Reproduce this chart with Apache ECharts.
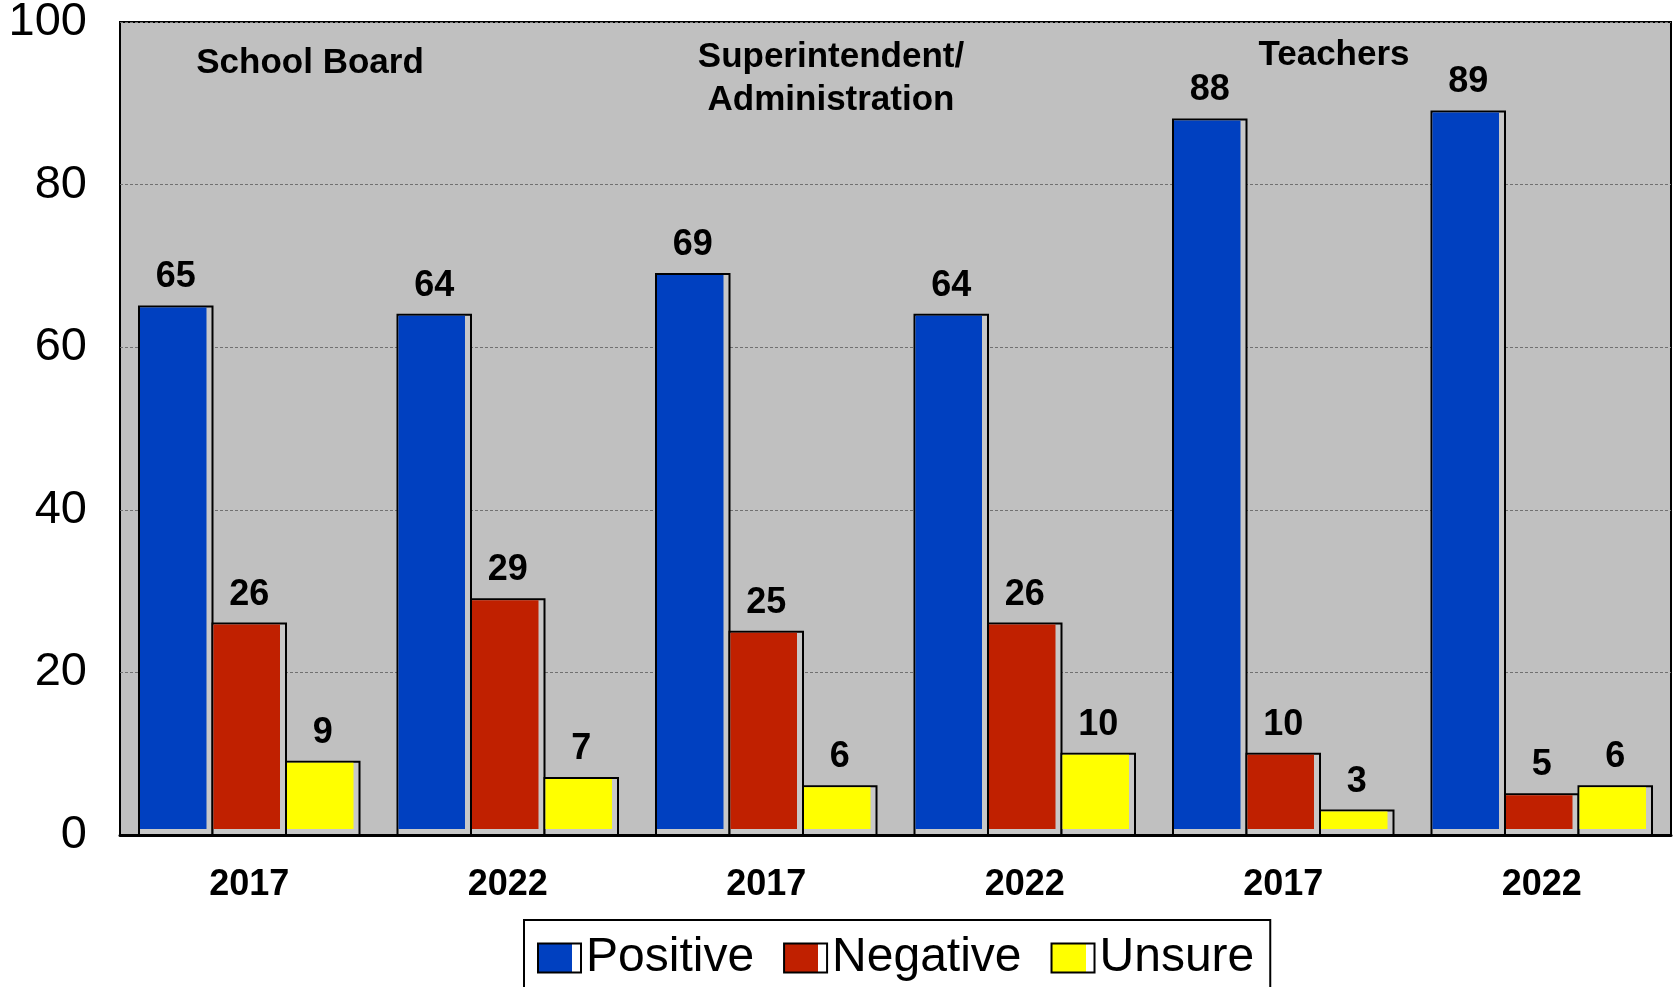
<!DOCTYPE html>
<html>
<head>
<meta charset="utf-8">
<title>Ratings</title>
<script src="https://cdn.jsdelivr.net/npm/echarts@6/dist/echarts.min.js"></script>
<style>
    html, body { margin: 0; padding: 0; background: #fff; }
    #MainChart { width: 1674px; height: 987px; }
</style>
</head>
<body>
<div id="MainChart"></div>
<script>
// data
var categories = ['2017', '2022', '2017', '2022', '2017', '2022'];
var seriesNames = ['Positive', 'Negative', 'Unsure'];
var positive = [65, 64, 69, 64, 88, 89];
var negative = [26, 29, 25, 26, 10, 5];
var unsure = [9, 7, 6, 10, 3, 6];
var yTicks = [0, 20, 40, 60, 80, 100];

var colors = ['#0040c0', '#c02000', '#ffff00'];
var fontName = 'Liberation Sans, Arial, sans-serif';

//bar with black border and a light strip on the right and bottom
function renderBar(params, api) {
    var idx = api.value(0);
    var val = api.value(1);
    var band = api.size([1, 0])[0];
    var groupW = band * 0.853;
    var bw = groupW / 3;
    var base = api.coord([idx, 0]);
    var top = api.coord([idx, val])[1];
    var x0 = base[0] - groupW / 2 + params.seriesIndex * bw;
    var h = base[1] - top;
    return {
        type: 'group',
        children: [
            {
                type: 'rect',
                shape: { x: x0, y: top, width: bw, height: h },
                style: { fill: '#c8c8c8', stroke: '#000', lineWidth: 2 }
            },
            {
                type: 'rect',
                shape: { x: x0 + 1, y: top + 1, width: bw - 7, height: h - 7 },
                style: { fill: colors[params.seriesIndex] }
            },
            {
                type: 'text',
                style: {
                    x: x0 + bw / 2,
                    y: top - 11,
                    text: String(val),
                    align: 'center',
                    verticalAlign: 'bottom',
                    fill: '#000',
                    font: 'bold 36px ' + fontName
                }
            }
        ]
    };
}

function legendFill(c) {
    return new echarts.graphic.LinearGradient(0, 0, 1, 0, [
        { offset: 0, color: c },
        { offset: 0.78, color: c },
        { offset: 0.78, color: '#fff' },
        { offset: 1, color: '#fff' }
    ]);
}

var chart = echarts.init(document.getElementById('MainChart'));
var allValues = [positive, negative, unsure];

option = {
    animation: false,
    backgroundColor: '#fff',
    textStyle: { fontFamily: fontName },
    grid: {
        left: 120,
        right: 3,
        top: 22,
        bottom: 152,
        show: true,
        backgroundColor: '#c0c0c0',
        borderColor: '#000',
        borderWidth: 2,
        outerBoundsMode: 'none'
    },
    legend: {
        left: 524,
        top: 920,
        icon: 'rect',
        itemWidth: 43,
        itemHeight: 29,
        itemGap: 29,
        padding: [14, 16, 40, 13],
        borderColor: '#000',
        borderWidth: 2,
        backgroundColor: '#fff',
        itemStyle: { borderColor: '#000', borderWidth: 2 },
        textStyle: { fontSize: 48, color: '#000', fontFamily: fontName, padding: [6, 0, 0, 0] },
        data: seriesNames.map(function (n, i) {
            return { name: n, itemStyle: { color: legendFill(colors[i]) } };
        })
    },
    //group titles inside the plot
    graphic: [
        {
            type: 'text', x: 310, y: 46,
            style: { text: 'School Board', align: 'center', verticalAlign: 'top', fill: '#000', font: 'bold 35px ' + fontName }
        },
        {
            type: 'text', x: 831, y: 36,
            style: { text: 'Superintendent/\nAdministration', align: 'center', verticalAlign: 'top', lineHeight: 43, fill: '#000', font: 'bold 35px ' + fontName }
        },
        {
            type: 'text', x: 1334, y: 38,
            style: { text: 'Teachers', align: 'center', verticalAlign: 'top', fill: '#000', font: 'bold 35px ' + fontName }
        }
    ],
    xAxis: {
        type: 'category',
        data: categories,
        axisLine: { show: true, lineStyle: { color: '#000', width: 3 } },
        axisTick: { show: false },
        axisLabel: { margin: 32, fontSize: 36, fontWeight: 'bold', color: '#000', fontFamily: fontName },
        splitLine: { show: false }
    },
    yAxis: {
        type: 'value',
        min: yTicks[0],
        max: yTicks[yTicks.length - 1],
        interval: 20,
        axisLine: { show: false },
        axisTick: { show: false },
        axisLabel: { margin: 33, fontSize: 47, color: '#000', fontFamily: fontName },
        splitLine: { show: true, lineStyle: { color: '#707070', width: 1, type: [3, 2] } }
    },
    series: seriesNames.map(function (n, i) {
        return {
            name: n,
            type: 'custom',
            renderItem: renderBar,
            itemStyle: { color: colors[i], borderColor: '#000', borderWidth: 2 },
            encode: { x: 0, y: 1 },
            data: allValues[i].map(function (v, k) { return [k, v]; })
        };
    })
};

chart.setOption(option);
</script>
</body>
</html>
